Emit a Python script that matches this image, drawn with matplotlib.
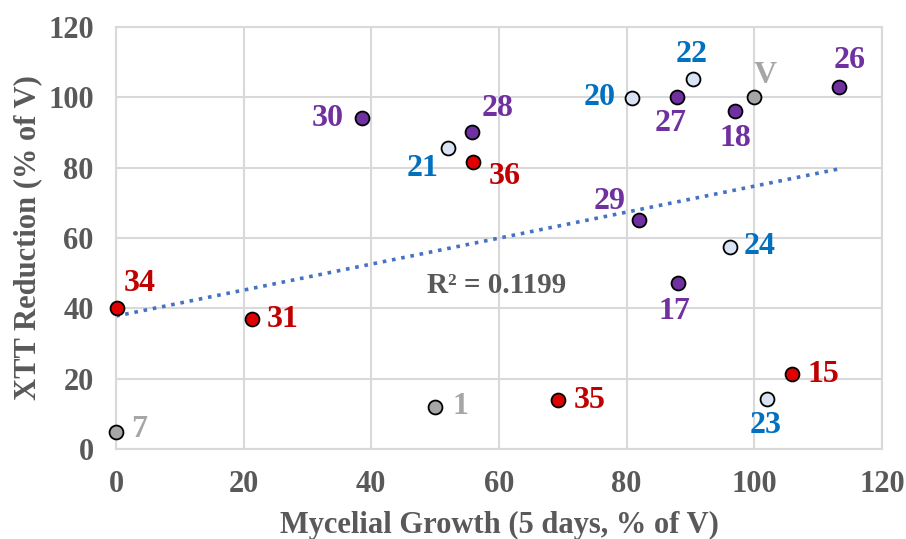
import numpy as np
import matplotlib.pyplot as plt

# === DATA ===
labels = ['30', '21', '28', '36', '20', '27', '22', '18', 'V', '26',
          '29', '24', '34', '31', '7', '1', '17', '15', '35', '23']
growth = [38.5, 52.0, 55.7, 55.9, 80.9, 87.9, 90.4, 97.0, 100.0, 113.3,
          81.9, 96.2, 0.1, 21.3, 0.0, 50.0, 88.0, 105.9, 69.3, 102.0]
xtt = [94.1, 85.5, 90.0, 81.5, 99.9, 100.0, 105.2, 96.1, 100.0, 102.8,
       65.1, 57.5, 40.2, 36.9, 4.7, 12.0, 47.1, 21.3, 13.9, 14.2]
groups = ['P', 'B', 'P', 'R', 'B', 'P', 'B', 'P', 'G', 'P',
          'P', 'B', 'R', 'R', 'G', 'G', 'P', 'R', 'R', 'B']

# === STYLE ===
MARKER_COL = {'P': '#7030A0', 'R': '#E00000', 'B': '#DAE3F3', 'G': '#A6A6A6'}
TEXT_COL = {'P': '#7030A0', 'R': '#C00000', 'B': '#0070C0', 'G': '#A6A6A6'}
# label offsets in pixels (dx, dy), dy up
OFFSETS = {'30': (-34, 0), '21': (-25, -20), '28': (26, 24), '36': (32, -14),
           '20': (-33, 0), '27': (-6, -26), '22': (-1, 25), '18': (0, -27),
           'V': (11, 22), '26': (10, 27), '29': (-29, 19), '24': (30, 0),
           '34': (23, 24), '31': (31, 0), '7': (23, 3), '1': (25, 0),
           '17': (-3, -28), '15': (31, 0), '35': (31, 0), '23': (-1, -26)}
AXIS_GREY = '#595959'
GRID_GREY = '#D9D9D9'
FONT = 'Liberation Serif'

plt.rcParams['font.family'] = FONT
plt.rcParams['font.weight'] = 'bold'

fig = plt.figure(figsize=(9.06, 5.39), dpi=100)
ax = fig.add_axes([0.128, 0.167, 0.8455, 0.783])

ax.set_xlim(0, 120)
ax.set_ylim(0, 120)
ax.set_xticks(np.arange(0, 121, 20))
ax.set_yticks(np.arange(0, 121, 20))
ax.grid(True, color=GRID_GREY, linewidth=1.5, zorder=0)
ax.set_axisbelow(True)
for sp in ax.spines.values():
    sp.set_color(GRID_GREY)
    sp.set_linewidth(1.5)
ax.tick_params(length=0, labelsize=22, labelcolor=AXIS_GREY)
ax.tick_params(axis='x', pad=15)
ax.tick_params(axis='y', pad=16)

# linear trendline over the data range
x = np.array(growth)
y = np.array(xtt)
slope, intercept = np.polyfit(x, y, 1)
xs = np.array([x.min(), x.max()])
ax.plot(xs, slope * xs + intercept, linestyle=(0, (1, 1.6)), color='#4472C4',
        linewidth=2.6, zorder=2)

for lab, gx, gy, g in zip(labels, growth, xtt, groups):
    ax.scatter(gx, gy, s=100, color=MARKER_COL[g], edgecolor='black',
               linewidth=1.3, zorder=3, clip_on=False)
    dx, dy = OFFSETS[lab]
    ax.annotate(lab, (gx, gy), xytext=(dx, dy), textcoords='offset pixels',
                ha='center', va='center', fontsize=23, fontweight='bold',
                color=TEXT_COL[g], zorder=4)

ax.text(59.7, 46.6, 'R² = 0.1199', ha='center', va='center', fontsize=21,
        fontweight='bold', color=AXIS_GREY)

ax.set_xlabel('Mycelial Growth (5 days, % of V)', fontsize=22, color=AXIS_GREY,
              fontweight='bold', labelpad=9)
ax.set_ylabel('XTT Reduction (% of V)', fontsize=22, color=AXIS_GREY,
              fontweight='bold', labelpad=4)

fig.savefig('out.png', dpi=100)
